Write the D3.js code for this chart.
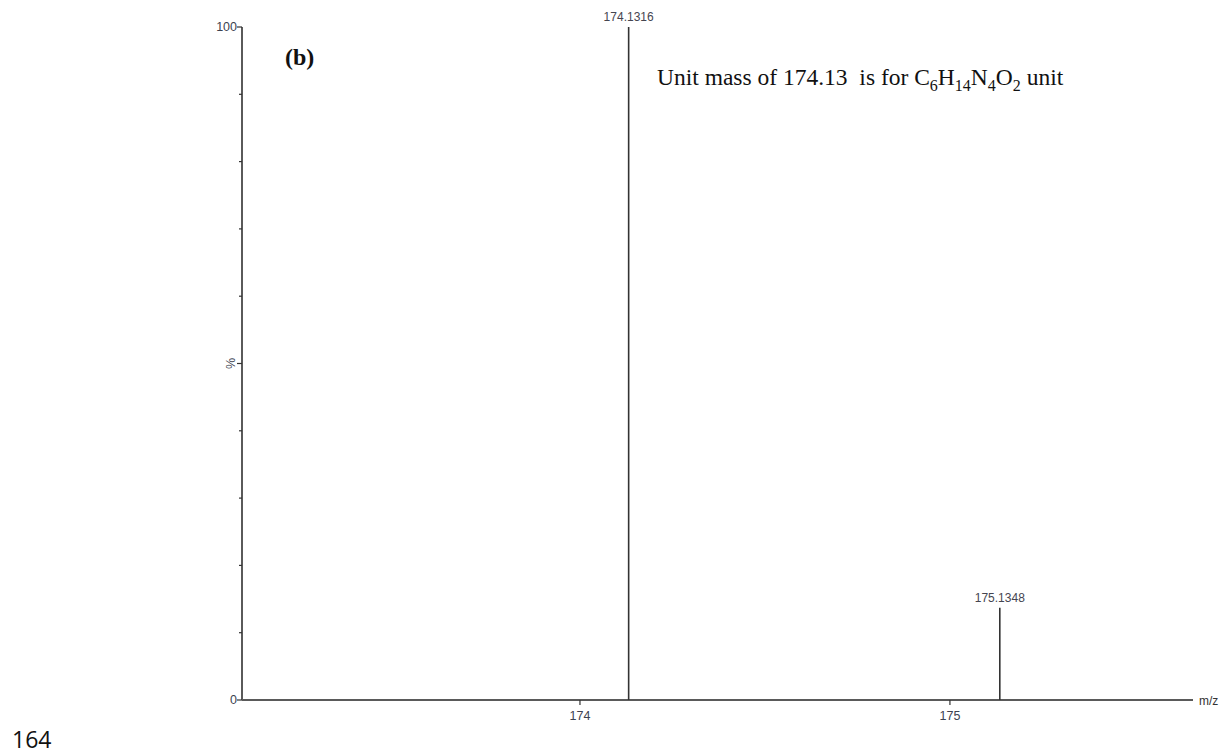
<!DOCTYPE html>
<html>
<head>
<meta charset="utf-8">
<script src="https://cdn.jsdelivr.net/npm/d3@7"></script>
<style>
body{margin:0;background:#fff;}
</style>
</head>
<body>
<div id="chart"></div>
<script>
const peakMz = [174.1316, 175.1348];
const peakIntensity = [100, 13.7];
const peakLabels = ["174.1316", "175.1348"];
const xTicks = [174, 175];
const yTicks = [0, 10, 20, 30, 40, 50, 60, 70, 80, 90, 100];
const yLabels = [0, 100];

const width = 1224;
const height = 755;
const margin = {top:27,right:31,bottom:55,left:242};

const svg = d3.select("#chart")
.append("svg")
.attr("width",width)
.attr("height",height);

const x = d3.scaleLinear()
.domain([173.0865,175.657])
.range([margin.left,width-margin.right]);

const y = d3.scaleLinear()
.domain([0,100])
.range([height-margin.bottom,margin.top]);

const axisColor = "#5a5a5a";
const labelColor = "#3c4250";
const sans = "Liberation Sans, Arial, sans-serif";
const serif = "Liberation Serif, Times New Roman, serif";

// y axis
svg.append("line")
.attr("x1",x.range()[0]).attr("x2",x.range()[0])
.attr("y1",y(0)).attr("y2",y(100))
.attr("stroke",axisColor).attr("stroke-width",2);

svg.selectAll(".ytick")
.data(yTicks)
.enter().append("line")
.attr("x1",d=>x.range()[0]-(d%50===0?5:3))
.attr("x2",x.range()[0])
.attr("y1",d=>y(d)).attr("y2",d=>y(d))
.attr("stroke","#333").attr("stroke-width",1.2);

svg.selectAll(".ylab")
.data(yLabels)
.enter().append("text")
.attr("x",x.range()[0]-5)
.attr("y",d=>y(d)+4)
.attr("text-anchor","end")
.attr("font-family",sans)
.attr("font-size","12.5px")
.attr("fill",labelColor)
.text(d=>d);

svg.append("text")
.attr("transform",`translate(${x.range()[0]-11},${y(50)}) rotate(-90)`)
.attr("text-anchor","middle")
.attr("dy","0.35em")
.attr("font-family",sans)
.attr("font-size","12.5px")
.attr("fill",labelColor)
.text("%");

// x axis
svg.append("line")
.attr("x1",x.range()[0]).attr("x2",x.range()[1])
.attr("y1",y(0)).attr("y2",y(0))
.attr("stroke",axisColor).attr("stroke-width",2);

svg.selectAll(".xtick")
.data(xTicks)
.enter().append("line")
.attr("x1",d=>x(d)).attr("x2",d=>x(d))
.attr("y1",y(0)).attr("y2",y(0)+5)
.attr("stroke","#333").attr("stroke-width",1.2);

svg.selectAll(".xlab")
.data(xTicks)
.enter().append("text")
.attr("x",d=>x(d))
.attr("y",y(0)+20)
.attr("text-anchor","middle")
.attr("font-family",sans)
.attr("font-size","12.5px")
.attr("fill",labelColor)
.text(d=>d);

svg.append("text")
.attr("x",x.range()[1]+6)
.attr("y",y(0)+5)
.attr("font-family",sans)
.attr("font-size","12px")
.attr("fill","#333")
.text("m/z");

// peaks
svg.selectAll(".peak")
.data(peakMz)
.enter().append("line")
.attr("x1",d=>x(d)).attr("x2",d=>x(d))
.attr("y1",y(0))
.attr("y2",(d,i)=>y(peakIntensity[i]))
.attr("stroke","#333").attr("stroke-width",1.6);

svg.selectAll(".plab")
.data(peakMz)
.enter().append("text")
.attr("x",d=>x(d))
.attr("y",(d,i)=>y(peakIntensity[i])-6)
.attr("text-anchor","middle")
.attr("font-family",sans)
.attr("font-size","12px")
.attr("fill","#454550")
.text((d,i)=>peakLabels[i]);

// panel label
svg.append("text")
.attr("x",285)
.attr("y",65)
.attr("font-family",serif)
.attr("font-size","24px")
.attr("font-weight","bold")
.attr("fill","#111")
.text("(b)");

// annotation
const note = svg.append("text")
.attr("x",657)
.attr("y",85)
.attr("font-family",serif)
.attr("font-size","23.5px")
.attr("fill","#111");
note.append("tspan").text("Unit mass of 174.13\u00a0 is for C");
[["6","H"],["14","N"],["4","O"],["2"," unit"]].forEach(p=>{
note.append("tspan").attr("dy",6).attr("font-size","16px").text(p[0]);
note.append("tspan").attr("dy",-6).text(p[1]);
});

// page number
svg.append("text")
.attr("x",12)
.attr("y",748)
.attr("font-family","Open Sans, Noto Sans, sans-serif")
.attr("font-size","23px")
.attr("fill","#111")
.text("164");
</script>
</body>
</html>
